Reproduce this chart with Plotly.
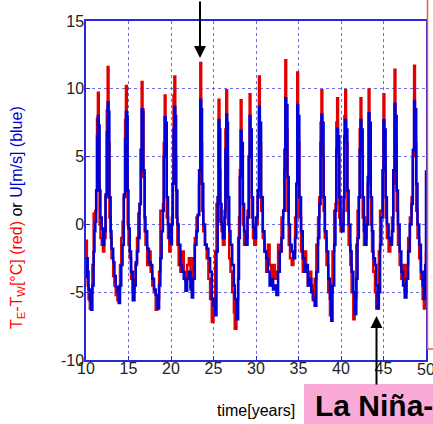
import plotly.graph_objects as go

# time [years]
t = [10.0, 10.1, 10.2, 10.3, 10.45, 10.6, 10.75, 10.9, 11.0, 11.1, 11.2, 11.3, 11.4, 11.5, 11.6, 11.7, 11.85,
     12.0, 12.15, 12.3, 12.45, 12.55, 12.65, 12.75, 12.9, 13.0, 13.2, 13.35, 13.5, 13.7, 13.85,
     14.0, 14.15, 14.3, 14.45, 14.6, 14.7, 14.8, 14.9, 15.0, 15.15, 15.3, 15.5, 15.7, 15.85,
     16.0, 16.15, 16.3, 16.45, 16.55, 16.65, 16.75, 16.9, 17.0, 17.2, 17.4, 17.6, 17.8,
     18.0, 18.2, 18.4, 18.6, 18.75, 18.9, 19.05, 19.15, 19.26, 19.36, 19.5, 19.65, 19.8, 19.95,
     20.1, 20.2, 20.3, 20.4, 20.5, 20.6, 20.75, 20.9, 21.1, 21.3, 21.5, 21.7, 21.9,
     22.1, 22.3, 22.45, 22.6, 22.8, 23.0, 23.15, 23.3, 23.45, 23.55, 23.65, 23.8,
     24.0, 24.2, 24.4, 24.6, 24.8, 25.0, 25.2, 25.35, 25.5, 25.6, 25.7, 25.8, 25.95,
     26.1, 26.3, 26.4, 26.5, 26.6, 26.7, 26.85, 27.0, 27.2, 27.4, 27.5, 27.7, 27.9,
     28.0, 28.1, 28.2, 28.3, 28.45, 28.6, 28.8, 29.0, 29.15, 29.25, 29.35, 29.5, 29.65, 29.8,
     30.0, 30.2, 30.35, 30.45, 30.6, 30.8, 31.0, 31.2, 31.4, 31.6, 31.8,
     32.0, 32.2, 32.4, 32.6, 32.8, 33.0, 33.2, 33.35, 33.45, 33.55, 33.7, 33.85,
     34.0, 34.2, 34.4, 34.6, 34.75, 34.85, 34.95, 35.1, 35.3, 35.5, 35.7, 35.9,
     36.1, 36.3, 36.5, 36.7, 36.9, 37.1, 37.3, 37.45, 37.6, 37.7, 37.8, 37.95,
     38.1, 38.3, 38.5, 38.7, 38.85, 39.0, 39.2, 39.35, 39.45, 39.55, 39.65, 39.8, 39.95,
     40.1, 40.3, 40.4, 40.5, 40.6, 40.75, 40.9, 41.1, 41.25, 41.45, 41.6, 41.8, 41.95,
     42.1, 42.2, 42.3, 42.4, 42.55, 42.7, 42.85, 43.0, 43.15, 43.25, 43.35, 43.5, 43.65, 43.8,
     44.0, 44.15, 44.3, 44.45, 44.6, 44.75, 44.9, 45.0, 45.1, 45.25, 45.4, 45.6, 45.8,
     46.0, 46.15, 46.3, 46.4, 46.55, 46.7, 46.9, 47.1, 47.3, 47.5, 47.7, 47.9,
     48.1, 48.3, 48.45, 48.6, 48.7, 48.85, 49.0, 49.2, 49.4, 49.6, 49.75, 49.9, 50.0]

# T_E - T_W [°C] (red)
te_tw = [-1.2, -3.0, -4.5, -5.5, -6.2, -5.0, -3.0, 0.8, 0.5, 1.0, 2.5, 7.8, 9.7, 3.0, 0.0, -1.0, -1.5,
         -2.0, -1.0, 2.0, 8.4, 11.6, 6.0, 0.5, -1.0, -2.5, -3.8, -4.5, -5.2, -5.6, -4.8,
         -3.0, -1.0, 0.2, 2.0, 7.7, 10.2, 4.0, 0.0, -1.5, -2.5, -4.0, -5.0, -4.0, -3.0,
         -1.0, 0.8, 1.5, 5.5, 10.5, 8.5, 3.5, -0.5, -1.5, -3.0, -2.0, -3.5, -4.5,
         -5.0, -6.3, -5.5, -3.5, 1.0, 1.0, 1.5, 6.0, 9.5, 5.0, 0.5, -1.0, -2.0, -1.5,
         0.5, 3.0, 9.5, 10.9, 5.0, 0.5, -1.5, -3.0, -3.5, -2.0, -3.5, -4.1, -3.0,
         -2.5, -4.6, -4.0, -2.5, -1.0, 0.5, 0.7, 3.0, 11.9, 6.0, 1.0, -0.5,
         -1.5, -2.5, -4.0, -5.5, -7.2, -6.0, -2.0, 1.5, 2.0, 9.2, 4.0, 0.2, -0.5,
         -1.5, 1.0, 7.0, 9.9, 5.0, 0.0, -2.5, -3.5, -5.0, -6.5, -7.7, -5.5, -1.0,
         0.5, 4.0, 9.15, 5.0, 0.0, -1.5, -1.0, 1.0, 5.0, 9.6, 6.0, 0.5, -1.0, -1.5,
         0.0, 2.0, 10.9, 6.0, 1.0, -1.0, -2.0, -3.5, -1.5, -3.0, -4.5,
         -3.0, -4.0, -3.5, -1.5, -2.0, 0.5, 1.0, 4.0, 12.1, 7.0, 1.0, -1.5,
         -2.5, -3.0, -2.0, 0.5, 3.0, 11.2, 6.0, 0.5, -2.0, -3.5, -2.0, -3.5,
         -4.5, -3.5, -4.5, -5.6, -4.0, -1.5, 0.5, 2.0, 7.5, 9.9, 5.0, 1.0,
         -1.0, -3.0, -5.0, -6.7, -5.0, -2.0, 1.0, 1.5, 7.5, 9.3, 5.0, 0.5, -0.5,
         0.0, 1.0, 8.0, 9.9, 6.0, 1.0, -1.5, -3.0, -5.0, -7.0, -5.5, -1.5, 1.0,
         2.0, 7.0, 9.3, 5.0, 0.5, -1.5, -1.0, 0.5, 3.0, 9.95, 5.0, 0.0, -2.0, -3.5,
         -5.0, -6.2, -5.0, -2.0, 1.0, 1.0, 4.0, 9.6, 5.0, 0.5, -1.0, -2.0, -1.0,
         0.5, 3.0, 11.4, 6.0, 1.0, -1.5, -3.0, -4.0, -3.0, -5.0, -3.0, -1.0,
         0.5, 2.0, 5.0, 11.7, 6.0, 1.0, -1.0, -2.5, -4.0, -5.5, -6.2, -4.0, -2.0]

# U [m/s] (blue)
u = [-3.9, -2.5, -3.5, -4.8, -5.6, -6.3, -4.5, -2.0, -0.5, 0.2, 2.5, 6.5, 8.0, 7.3, 2.5, 0.5, -0.3,
     -1.5, -0.5, 2.2, 6.8, 9.0, 8.3, 2.0, -0.5, -1.8, -2.8, -3.8, -4.6, -5.0, -5.8,
     -4.5, -3.0, -1.5, 2.2, 6.3, 8.3, 8.0, 2.5, -0.3, -2.0, -3.5, -5.6, -4.5, -2.8,
     -2.0, -1.0, 1.5, 5.5, 8.5, 8.3, 4.0, 0.5, -0.5, -1.8, -2.8, -3.0, -4.0,
     -4.8, -5.2, -6.2, -4.5, -2.5, -0.5, 1.0, 5.0, 7.9, 7.5, 2.0, 0.0, -1.0, -1.4,
     0.0, 3.0, 7.0, 8.65, 8.0, 2.5, 0.0, -1.5, -3.0, -3.5, -4.0, -4.9, -4.0,
     -3.5, -4.8, -5.4, -4.0, -1.5, -0.5, 0.7, 4.0, 9.2, 8.5, 3.0, 0.0,
     -1.5, -1.8, -2.5, -3.5, -5.5, -6.0, -6.7, -2.0, 2.0, 7.7, 7.0, 1.5, 0.0,
     -1.0, 0.5, 5.5, 8.1, 7.5, 2.0, -0.5, -1.5, -3.0, -4.5, -5.5, -7.0, -4.0,
     -1.0, 3.5, 6.9, 6.0, 1.5, -0.5, -1.5, 0.5, 5.0, 8.0, 7.0, 2.0, -0.2, -1.0,
     0.5, 2.5, 8.65, 7.5, 2.0, -0.5, -2.0, -2.5, -3.5, -4.5, -4.0,
     -4.8, -4.5, -5.2, -3.5, -2.0, -1.0, 1.0, 5.5, 9.3, 8.8, 3.5, 0.0,
     -1.5, -2.0, -2.5, -1.0, 3.0, 8.8, 8.0, 2.0, -0.5, -2.5, -3.5, -3.0,
     -4.5, -4.0, -5.0, -5.5, -6.0, -3.5, -1.0, 1.5, 6.0, 8.1, 7.5, 2.0,
     -0.5, -2.0, -4.0, -5.5, -7.1, -4.5, -1.5, 1.0, 5.5, 7.05, 6.5, 2.0, 0.0,
     -0.5, 2.0, 6.5, 7.7, 7.0, 2.5, 0.0, -2.0, -3.5, -5.0, -6.6, -4.0, -1.0,
     2.0, 5.5, 7.7, 7.0, 2.0, -0.5, -1.5, 0.0, 3.5, 8.2, 7.5, 2.0, -0.5, -2.5,
     -3.0, -4.5, -6.2, -5.0, -1.5, 0.5, 4.0, 7.7, 7.0, 2.0, 0.0, -1.0, -1.5,
     -0.5, 4.0, 8.9, 8.0, 2.5, 0.0, -2.0, -3.5, -4.5, -5.4, -4.0, -2.0,
     0.0, 1.5, 5.5, 9.1, 8.5, 3.0, 0.0, -1.5, -3.5, -4.5, -5.5, -3.0, 4.0]

x_ticks = [10, 15, 20, 25, 30, 35, 40, 45, 50]
y_ticks = [-10, -5, 0, 5, 10, 15]

FONT = "Liberation Sans, Arial, Helvetica, sans-serif"
RED = "rgb(225,0,0)"
BLUE = "rgb(0,0,215)"
AXIS_BLUE = "rgb(40,40,220)"
GRID = "rgba(60,60,220,0.75)"

fig = go.Figure()
fig.add_trace(go.Scatter(x=t, y=te_tw, mode="lines", line=dict(color=RED, width=2.5, shape="hv"),
                         showlegend=False))
fig.add_trace(go.Scatter(x=t, y=u, mode="lines", line=dict(color=BLUE, width=2.5, shape="hv"),
                         showlegend=False))

# the last x tick label ("50") sits on the figure's right edge; it is drawn as an annotation below
x_ticktext = [str(v) if v != x_ticks[-1] else "" for v in x_ticks]

fig.update_xaxes(range=[10, 50], tickvals=x_ticks, ticktext=x_ticktext,
                 showline=True, linecolor=AXIS_BLUE, linewidth=1.5, mirror=True,
                 showgrid=True, gridcolor=GRID, griddash="dot", gridwidth=1,
                 ticks="inside", ticklen=4, tickcolor=AXIS_BLUE, zeroline=False,
                 automargin=False, ticklabelstandoff=-7,
                 tickfont=dict(family=FONT, size=16, color="#222"))
fig.update_yaxes(range=[-10, 15], tickvals=y_ticks, ticktext=[str(v) for v in y_ticks],
                 showline=True, linecolor=AXIS_BLUE, linewidth=1.5, mirror=True,
                 showgrid=True, gridcolor=GRID, griddash="dot", gridwidth=1,
                 ticks="inside", ticklen=4, tickcolor=AXIS_BLUE, zeroline=False,
                 automargin=False, ticklabelstandoff=-3,
                 tickfont=dict(family=FONT, size=16, color="#222"))

def px(xp):
    return (xp - 86) / 340.0

def py(yp):
    return (360 - yp) / 339.0

annotations = [
    dict(x=px(17), y=py(218), xref="paper", yref="paper", textangle=-90, showarrow=False,
         text=('<span style="color:red">T<sub>E</sub>-T<sub>W</sub>[°C] (red)</span> '
               '<span style="color:black">or</span> '
               '<span style="color:rgb(0,0,210)">U[m/s] (blue)</span>'),
         font=dict(family=FONT, size=16), xanchor="center", yanchor="middle"),
    dict(x=px(256), y=py(410), xref="paper", yref="paper", showarrow=False,
         text="time[years]", font=dict(family=FONT, size=16, color="black"),
         xanchor="center", yanchor="middle"),
    dict(x=50, y=py(369), xref="x", yref="paper", showarrow=False,
         text=str(x_ticks[-1]), font=dict(family=FONT, size=16, color="#222"),
         xanchor="center", yanchor="middle"),
    dict(x=px(313), y=py(406), xref="paper", yref="paper", showarrow=False,
         text="<b>La Niña-</b>", font=dict(family=FONT, size=30, color="black"),
         xanchor="left", yanchor="middle"),
    # arrows
    dict(x=px(200), y=py(58), xref="paper", yref="paper", ax=0, ay=-60,
         axref="pixel", ayref="pixel", showarrow=True, arrowhead=2, arrowsize=1.2,
         arrowwidth=2, arrowcolor="black", text=""),
    dict(x=px(376.5), y=py(316), xref="paper", yref="paper", ax=0, ay=70,
         axref="pixel", ayref="pixel", showarrow=True, arrowhead=2, arrowsize=1.2,
         arrowwidth=2, arrowcolor="black", text=""),
]

shapes = [
    dict(type="rect", xref="paper", yref="paper", x0=px(304), x1=px(440), y0=py(384), y1=py(430),
         fillcolor="rgb(250,170,215)", line=dict(width=0), layer="below"),
    dict(type="line", xref="paper", yref="paper", x0=px(427.5), x1=px(427.5), y0=py(-5), y1=py(349),
         line=dict(color="rgb(240,90,70)", width=1.5)),
    dict(type="line", xref="paper", yref="paper", x0=px(427.5), x1=px(440), y0=py(349), y1=py(349),
         line=dict(color="rgb(240,90,70)", width=1.5)),
]

fig.update_layout(width=433, height=424, margin=dict(l=86, r=7, t=21, b=64),
                  paper_bgcolor="white", plot_bgcolor="white",
                  annotations=annotations, shapes=shapes,
                  font=dict(family=FONT))

fig.write_html("out.html", config={"responsive": False, "displayModeBar": False},
               post_script="document.body.style.margin='0';document.body.style.overflow='hidden';")
